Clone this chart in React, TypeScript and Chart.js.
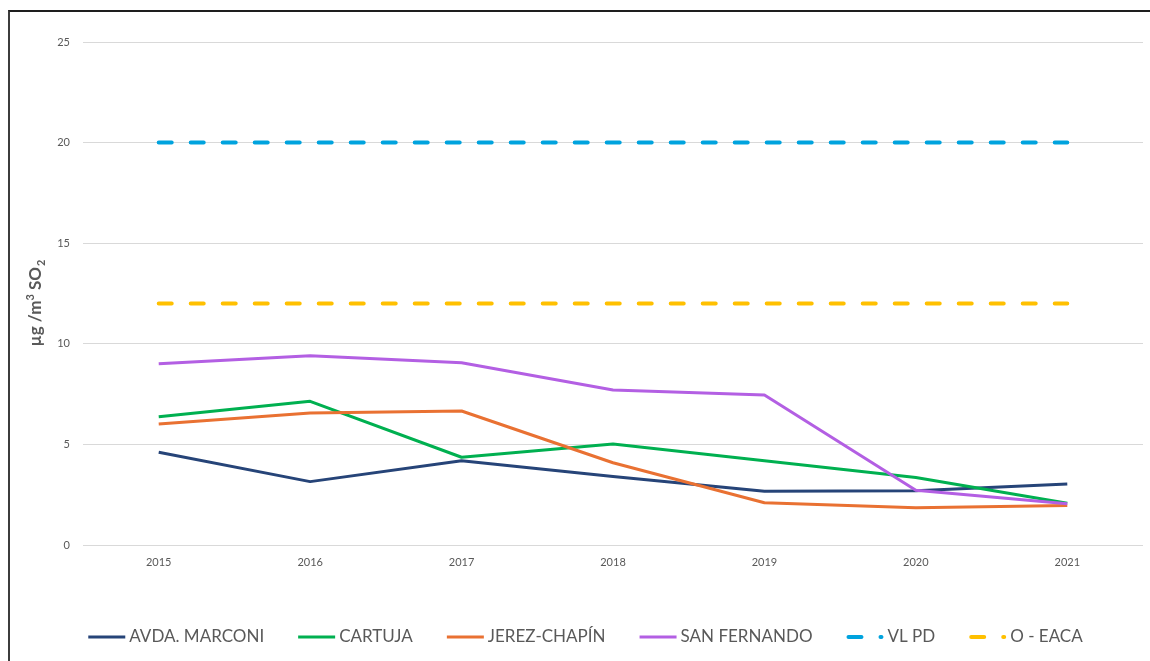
import React, { useEffect, useRef } from "react";
import { Chart, registerables } from "chart.js";

Chart.register(...registerables);

const years = ["2015", "2016", "2017", "2018", "2019", "2020", "2021"];
const avdaMarconi = [4.61, 3.15, 4.19, 3.4, 2.67, 2.7, 3.03];
const cartuja = [6.38, 7.14, 4.36, 5.02, 4.19, 3.36, 2.08];
const jerezChapin = [6.01, 6.56, 6.66, 4.09, 2.1, 1.85, 1.96];
const sanFernando = [9.01, 9.41, 9.06, 7.7, 7.46, 2.72, 2.05];
const vlPd = [20, 20, 20, 20, 20, 20, 20];
const oEaca = [12, 12, 12, 12, 12, 12, 12];
const yTickValues = [0, 5, 10, 15, 20, 25];
const seriesNames = ["AVDA. MARCONI", "CARTUJA", "JEREZ-CHAPÍN", "SAN FERNANDO", "VL PD", "O - EACA"];
const seriesColors = ["#264478", "#00B050", "#E97132", "#B35FE3", "#00A3DE", "#FFC000"];
const yTitleMain = "µg /m";
const yTitleSup = "3";
const yTitleMid = " SO";
const yTitleSub = "2";

const FONT = "Lato, 'Liberation Sans', sans-serif";
const GRAY = "#595959";
const DASH = [13, 19];

const customPlugin = {
  id: "customDeco",
  afterDraw(chart: any) {
    const ctx = chart.ctx as CanvasRenderingContext2D;
    // Y axis title with superscript / subscript
    ctx.save();
    ctx.translate(36, 303);
    ctx.rotate(-Math.PI / 2);
    ctx.fillStyle = GRAY;
    ctx.textBaseline = "middle";
    const big = `bold 17px ${FONT}`;
    const small = `bold 11px ${FONT}`;
    ctx.font = big;
    const w1 = ctx.measureText(yTitleMain).width;
    const w3 = ctx.measureText(yTitleMid).width;
    ctx.font = small;
    const w2 = ctx.measureText(yTitleSup).width;
    const w4 = ctx.measureText(yTitleSub).width;
    const total = w1 + w2 + w3 + w4 + 1;
    let x = -total / 2;
    ctx.font = big;
    ctx.fillText(yTitleMain, x, 0);
    x += w1;
    ctx.font = small;
    ctx.fillText(yTitleSup, x, -6);
    x += w2;
    ctx.font = big;
    ctx.fillText(yTitleMid, x, 0);
    x += w3 + 1;
    ctx.font = small;
    ctx.fillText(yTitleSub, x, 5);
    ctx.restore();

    // Legend
    ctx.save();
    ctx.font = `17px ${FONT}`;
    ctx.textBaseline = "middle";
    const sampleW = 37;
    const textGap = 4;
    const itemGap = 34;
    const widths = seriesNames.map((n) => ctx.measureText(n).width);
    const totalW =
      widths.reduce((s, w) => s + sampleW + textGap + w, 0) + itemGap * (seriesNames.length - 1);
    let lx = 585.5 - totalW / 2;
    const ly = 637;
    seriesNames.forEach((name, i) => {
      const dashed = i >= 4;
      ctx.strokeStyle = seriesColors[i];
      ctx.beginPath();
      if (dashed) {
        ctx.lineWidth = 4;
        ctx.lineCap = "round";
        ctx.setLineDash(DASH);
        ctx.moveTo(lx + 2, ly);
        ctx.lineTo(lx + sampleW - 2, ly);
      } else {
        ctx.lineWidth = 3;
        ctx.lineCap = "butt";
        ctx.setLineDash([]);
        ctx.moveTo(lx, ly);
        ctx.lineTo(lx + sampleW, ly);
      }
      ctx.stroke();
      ctx.setLineDash([]);
      ctx.fillStyle = GRAY;
      ctx.fillText(name, lx + sampleW + textGap, ly);
      lx += sampleW + textGap + widths[i] + itemGap;
    });
    ctx.restore();
  },
};

export default function App() {
  const ref = useRef<HTMLCanvasElement | null>(null);

  useEffect(() => {
    if (!ref.current) return;
    const seriesData = [avdaMarconi, cartuja, jerezChapin, sanFernando, vlPd, oEaca];
    const datasets = seriesData.map((d, i) => ({
      label: seriesNames[i],
      data: d,
      borderColor: seriesColors[i],
      backgroundColor: seriesColors[i],
      borderWidth: i >= 4 ? 4 : 3,
      borderDash: i >= 4 ? DASH : [],
      borderCapStyle: i >= 4 ? "round" : "butt",
      borderJoinStyle: "round",
      pointRadius: 0,
      pointHoverRadius: 0,
      tension: 0,
      fill: false,
      order: 10 - i,
    }));
    const chart = new Chart(ref.current, {
      type: "line",
      data: { labels: years, datasets: datasets as any },
      options: {
        animation: false,
        responsive: false,
        maintainAspectRatio: false,
        layout: { padding: { top: 42, right: 7, bottom: 0, left: 0 } },
        plugins: {
          legend: { display: false },
          tooltip: { enabled: false },
          title: { display: false },
        },
        scales: {
          x: {
            offset: true,
            grid: { display: false, drawTicks: false },
            border: { display: false },
            ticks: {
              color: GRAY,
              font: { family: FONT, size: 11 },
              padding: 11,
              maxRotation: 0,
            },
            afterFit(scale: any) {
              scale.height = 116;
            },
          },
          y: {
            min: 0,
            max: 25,
            afterBuildTicks(scale: any) {
              scale.ticks = yTickValues.map((v) => ({ value: v }));
            },
            grid: { color: "#D9D9D9", lineWidth: 1, drawTicks: false },
            border: { display: false },
            ticks: {
              color: GRAY,
              font: { family: FONT, size: 11 },
              padding: 13,
            },
            afterFit(scale: any) {
              scale.width = 83;
            },
          },
        },
      },
      plugins: [customPlugin],
    });
    return () => chart.destroy();
  }, []);

  return (
    <div style={{ position: "fixed", left: 0, top: 0, width: 1150, height: 661, background: "#fff" }}>
      <canvas ref={ref} width={1150} height={661} style={{ position: "absolute", left: 0, top: 0, width: 1150, height: 661 }} />
      <div
        style={{
          position: "absolute",
          left: 8,
          top: 10,
          width: 1150,
          height: 700,
          borderLeft: "2px solid #3C3C3C",
          borderTop: "2px solid #1E1E1E",
          pointerEvents: "none",
        }}
      />
    </div>
  );
}
